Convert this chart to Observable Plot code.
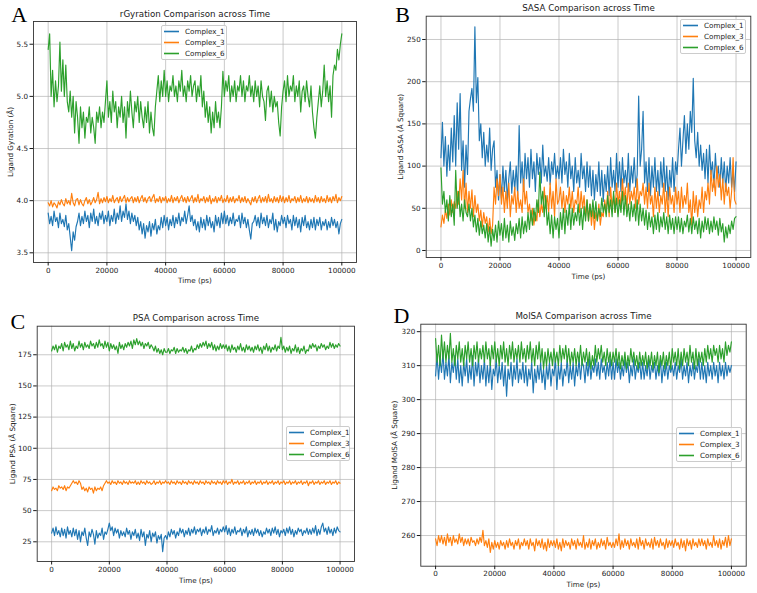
<!DOCTYPE html>
<html><head><meta charset="utf-8">
<script src="https://cdn.jsdelivr.net/npm/d3@7"></script>
<script src="https://cdn.jsdelivr.net/npm/@observablehq/plot@0.6"></script>
<style>
body{margin:0;background:#fff;}
#root{position:relative;width:757px;height:593px;overflow:hidden;font-family:"DejaVu Sans",sans-serif;background:#fff;}
.panel{position:absolute;}
.panel svg{overflow:visible;}
.legend{position:absolute;background:rgba(255,255,255,0.8);border:1px solid #cccccc;border-radius:2px;font-size:7.2px;color:#222;padding:0 0 0 2px;box-sizing:border-box;}
.legend .row{display:flex;align-items:center;height:11px;white-space:nowrap;}
.legend svg{flex:none;margin-right:6px;}
</style></head>
<body>
<div id="root"></div>
<script>
const timePs = [0,500,1000,1500,2000,2500,3000,3500,4000,4500,5000,5500,6000,6500,7000,7500,8000,8500,9000,9500,
10000,10500,11000,11500,12000,12500,13000,13500,14000,14500,15000,15500,16000,16500,17000,17500,18000,18500,19000,19500,
20000,20500,21000,21500,22000,22500,23000,23500,24000,24500,25000,25500,26000,26500,27000,27500,28000,28500,29000,29500,
30000,30500,31000,31500,32000,32500,33000,33500,34000,34500,35000,35500,36000,36500,37000,37500,38000,38500,39000,39500,
40000,40500,41000,41500,42000,42500,43000,43500,44000,44500,45000,45500,46000,46500,47000,47500,48000,48500,49000,49500,
50000,50500,51000,51500,52000,52500,53000,53500,54000,54500,55000,55500,56000,56500,57000,57500,58000,58500,59000,59500,
60000,60500,61000,61500,62000,62500,63000,63500,64000,64500,65000,65500,66000,66500,67000,67500,68000,68500,69000,69500,
70000,70500,71000,71500,72000,72500,73000,73500,74000,74500,75000,75500,76000,76500,77000,77500,78000,78500,79000,79500,
80000,80500,81000,81500,82000,82500,83000,83500,84000,84500,85000,85500,86000,86500,87000,87500,88000,88500,89000,89500,
90000,90500,91000,91500,92000,92500,93000,93500,94000,94500,95000,95500,96000,96500,97000,97500,98000,98500,99000,99500,
100000];

const seriesNames = ["Complex_1","Complex_3","Complex_6"];
const seriesColors = ["#1f77b4","#ff7f0e","#2ca02c"];
const xTicks = [0,20000,40000,60000,80000,100000];
const rgTicks = [3.5,4.0,4.5,5.0,5.5];
const sasaTicks = [0,50,100,150,200,250];
const psaTicks = [25,50,75,100,125,150,175];
const molsaTicks = [260,270,280,290,300,310,320];

// A: radius of gyration (Å)
const rg1 = [3.88,3.78,3.85,3.76,3.9,3.8,3.84,3.74,3.88,3.78,3.82,3.75,3.86,3.72,3.78,3.65,3.52,3.7,3.62,3.75,
 3.8,3.88,3.76,3.85,3.78,3.9,3.8,3.86,3.74,3.88,3.8,3.92,3.78,3.85,3.76,3.88,3.82,3.9,3.78,3.86,
 3.8,3.9,3.76,3.86,3.8,3.92,3.78,3.88,3.82,3.95,3.8,3.9,3.84,3.97,3.82,3.9,3.78,3.88,3.8,3.86,
 3.76,3.84,3.72,3.8,3.68,3.78,3.64,3.76,3.7,3.8,3.66,3.78,3.72,3.82,3.68,3.76,3.72,3.84,3.74,3.86,
 3.76,3.84,3.72,3.82,3.76,3.86,3.74,3.84,3.78,3.88,3.76,3.84,3.8,3.9,3.78,3.86,3.95,3.8,3.86,3.76,
 3.82,3.72,3.8,3.7,3.84,3.74,3.82,3.72,3.86,3.76,3.84,3.74,3.8,3.7,3.86,3.76,3.84,3.74,3.88,3.78,
 3.9,3.78,3.86,3.76,3.84,3.78,3.88,3.76,3.82,3.8,3.86,3.74,3.88,3.78,3.84,3.74,3.82,3.72,3.63,3.78,
 3.8,3.86,3.76,3.84,3.74,3.88,3.78,3.84,3.76,3.86,3.74,3.82,3.78,3.88,3.72,3.82,3.7,3.8,3.76,3.86,
 3.78,3.84,3.74,3.86,3.78,3.82,3.72,3.86,3.76,3.84,3.74,3.82,3.7,3.84,3.76,3.86,3.74,3.8,3.72,3.82,
 3.74,3.84,3.72,3.82,3.76,3.84,3.72,3.8,3.76,3.82,3.72,3.8,3.74,3.84,3.76,3.82,3.74,3.8,3.68,3.78,
 3.82];
const rg3 = [3.98,3.95,4.0,3.94,3.98,3.96,3.93,3.99,3.96,4.01,3.97,3.95,4.02,3.97,4.0,3.96,4.07,3.98,3.95,4.01,
 4.02,3.96,4.01,3.97,3.95,4.0,4.03,3.97,4.01,3.96,3.99,4.03,3.98,4.01,4.08,3.97,4.02,3.98,4.03,3.99,
 4.04,3.98,4.02,3.99,4.05,3.98,4.01,4.03,3.98,4.04,3.99,4.02,4.05,3.98,4.03,3.99,4.02,4.04,3.98,4.03,
 3.99,4.04,3.98,4.02,4.05,3.99,4.03,3.98,4.02,4.04,3.99,4.03,4.06,3.98,4.02,3.99,4.04,3.98,4.03,4.0,
 4.04,3.98,4.02,3.99,4.05,3.98,4.03,4.0,4.04,3.98,4.02,4.05,3.99,4.03,3.98,4.04,3.99,4.02,4.05,3.98,
 4.03,3.99,4.06,3.98,4.02,4.0,4.04,3.98,4.03,3.99,4.05,3.97,4.02,3.99,4.04,3.98,4.03,4.0,4.05,3.98,
 4.02,3.99,4.05,3.98,4.03,3.99,4.04,3.98,4.02,4.0,4.05,3.98,4.03,3.99,4.04,3.98,4.02,3.99,3.96,4.03,
 3.99,4.04,3.98,4.02,4.05,3.98,4.03,3.99,4.04,3.98,4.06,3.99,4.02,3.98,4.04,3.99,4.03,3.98,4.05,3.99,
 4.04,3.98,4.03,3.99,4.05,3.98,4.02,4.0,4.04,3.98,4.03,3.99,4.05,3.98,4.02,3.99,4.04,3.98,4.03,3.99,
 4.02,3.98,4.05,3.99,4.03,3.98,4.04,3.99,4.02,3.98,4.05,3.99,4.03,3.98,4.04,4.0,4.06,3.98,4.03,4.0,
 4.04];
const rg6 = [5.45,5.6,5.0,5.25,4.9,5.15,4.95,5.1,5.52,5.05,5.35,5.0,5.3,4.95,4.85,5.05,4.8,5.0,4.65,4.95,
 4.8,4.55,4.9,4.7,4.85,4.6,4.8,4.75,4.9,4.65,4.8,4.7,4.55,4.85,4.75,4.9,4.7,4.85,4.75,4.95,
 5.15,4.8,4.95,4.75,5.05,4.85,4.95,4.7,4.9,4.8,5.0,4.75,4.9,4.6,4.95,4.8,5.05,4.85,4.7,4.95,
 4.85,5.0,4.75,4.95,4.8,4.7,4.9,4.75,4.95,4.65,4.85,4.7,4.62,4.9,5.05,5.2,4.95,5.15,5.0,5.25,
 5.0,5.15,4.95,5.1,5.05,5.2,5.0,5.1,4.95,5.15,5.05,5.25,5.0,5.1,4.95,5.15,5.05,5.2,5.0,5.1,
 5.15,4.95,5.1,5.0,5.2,4.9,5.05,4.8,4.95,4.75,4.9,4.65,4.85,4.7,4.95,4.75,4.85,4.7,4.9,5.24,
 5.0,5.15,5.05,5.2,4.95,5.1,5.0,5.15,4.95,5.1,5.05,5.2,5.0,5.15,4.95,5.1,5.05,5.2,5.0,5.1,
 4.95,5.15,5.0,5.1,4.9,5.15,5.0,4.95,4.77,5.05,5.1,4.9,5.05,4.85,5.0,4.9,4.95,4.75,4.62,4.9,
 5.05,5.15,4.95,5.2,5.0,5.1,5.05,5.2,4.95,5.1,5.0,5.15,4.85,5.05,5.1,4.95,5.15,5.0,4.9,5.1,
 4.85,4.7,4.6,4.8,4.95,5.1,4.9,5.05,5.3,5.0,5.15,4.95,5.1,4.8,5.2,5.3,5.25,5.45,5.35,5.5,
 5.6];

// B: SASA (Å Square)
const sasa1 = [110,152,100,135,88,125,95,145,105,160,100,175,120,186,95,130,75,125,90,165,
 180,192,165,265,175,205,130,150,110,140,100,125,105,145,95,120,130,75,95,60,
 90,62,100,70,95,60,85,105,68,95,72,100,65,148,80,105,70,115,85,110,
 75,120,85,105,70,115,90,110,80,125,88,100,82,110,78,105,90,115,85,100,
 85,110,80,120,90,105,75,115,85,100,70,110,80,95,75,115,85,100,70,105,
 75,100,65,95,60,90,70,105,65,95,58,90,70,100,65,110,75,95,70,115,
 75,105,70,110,80,95,75,115,70,100,80,110,75,90,183,100,120,165,80,105,
 70,110,65,100,75,110,70,95,65,105,75,110,70,100,60,95,75,110,70,105,
 90,120,145,100,130,160,115,150,120,165,140,204,130,110,140,100,125,95,115,85,
 120,80,125,90,105,75,115,85,100,75,110,80,105,70,100,80,110,75,95,70,
 105];
const sasa3 = [28,42,32,48,38,55,42,60,45,58,50,70,55,85,60,95,50,80,45,70,
 50,72,40,65,45,55,35,48,28,45,32,40,22,38,20,30,75,55,85,65,
 90,55,75,45,70,50,80,40,65,55,75,45,70,50,60,45,85,55,70,45,
 55,35,50,30,45,35,60,40,55,45,75,50,65,45,80,50,70,40,85,55,
 60,75,50,70,45,65,55,75,50,70,45,60,55,75,45,70,50,65,40,60,
 35,55,30,50,25,45,35,55,30,45,40,60,45,70,40,75,50,65,45,80,
 55,70,50,85,60,75,50,80,55,70,60,75,50,85,55,70,65,80,55,75,
 50,80,55,65,40,75,50,70,45,65,55,80,45,70,40,75,55,65,45,75,
 55,70,45,75,50,65,55,80,45,60,30,70,45,65,40,60,50,75,45,70,
 60,80,55,95,70,85,65,100,75,90,60,85,55,80,65,75,50,70,110,60,
 55];
const sasa6 = [98,55,70,45,60,35,65,40,55,30,95,50,70,40,55,35,60,45,40,55,
 35,50,28,42,22,38,18,35,20,30,15,32,10,28,5,25,12,30,10,35,
 18,32,12,38,15,30,10,35,18,28,12,32,20,38,15,40,20,35,22,45,
 25,48,30,50,35,60,45,93,55,70,40,65,30,45,20,42,15,40,25,38,
 15,45,25,50,20,48,30,55,25,50,30,45,35,55,30,50,25,52,35,60,
 35,55,40,60,38,58,35,50,40,62,45,55,40,65,45,60,40,70,45,62,
 40,60,45,70,42,65,40,55,35,58,40,55,35,60,30,55,35,50,30,48,
 25,45,28,40,20,42,25,45,22,40,28,45,25,40,20,42,25,38,20,40,
 25,40,22,38,20,35,28,42,22,38,20,40,25,35,20,38,15,35,22,40,
 25,38,20,35,22,40,25,35,18,38,22,32,10,28,15,30,20,35,25,38,
 40];

// C: PSA (Å Square)
const psa1 = [32,36,30,37,31,34,29,36,30,35,28,37,31,34,29,36,30,35,27,34,
 25,33,30,36,28,22,33,29,35,31,23,34,28,32,30,36,27,33,31,35,
 40,34,37,30,36,32,35,28,34,30,33,29,36,31,34,27,33,30,35,28,
 32,26,35,29,33,22,31,28,34,25,32,29,33,24,30,27,31,17,28,30,
 27,33,29,35,31,34,28,33,30,36,32,35,29,34,31,36,30,35,32,37,
 31,35,33,36,30,35,32,37,31,35,33,38,30,34,32,36,31,35,33,37,
 33,38,31,36,30,35,32,37,31,34,33,36,30,35,32,37,29,34,31,35,
 30,36,32,35,30,34,29,33,31,36,32,35,30,36,32,37,31,35,29,34,
 32,35,30,36,32,37,31,35,29,34,31,36,33,35,30,34,32,36,31,35,
 31,36,32,38,30,35,31,37,40,33,36,31,37,32,35,30,36,32,37,34,
 33];
const psa3 = [66,69,67,68,66,70,68,69,67,70,66,69,68,70,72,74,72,73,71,74,
 72,67,69,66,68,65,69,67,68,64,69,66,68,67,69,66,70,72,74,72,
 73,71,74,72,73,71,74,72,73,71,74,72,73,71,74,72,73,72,74,71,
 73,71,74,72,73,71,74,72,73,71,72,74,71,73,72,74,71,73,72,74,
 72,73,71,74,72,73,71,74,72,73,71,74,72,73,71,74,72,73,71,74,
 72,73,71,74,72,73,71,74,72,73,71,74,72,73,71,74,72,73,71,74,
 72,74,71,73,72,75,71,73,72,74,71,73,72,74,71,73,72,74,71,73,
 72,74,71,73,72,74,71,73,72,74,71,73,72,74,71,73,72,74,71,73,
 72,74,71,73,72,74,71,73,72,74,71,73,72,74,71,73,72,74,70,73,
 72,74,71,73,72,74,71,73,72,74,71,73,72,74,71,73,72,74,71,73,
 72];
const psa6 = [178,182,179,183,177,182,180,184,178,185,181,183,179,186,180,184,178,182,180,186,
 181,184,179,185,181,183,180,186,182,184,180,185,181,187,182,184,180,186,181,185,
 178,184,180,183,179,182,176,185,180,183,179,184,181,185,182,186,180,187,183,188,
 183,186,182,185,180,184,182,185,180,183,181,178,182,177,180,176,179,175,180,177,
 177,180,176,179,178,181,176,180,177,179,178,181,177,180,176,179,178,182,177,180,
 179,183,180,184,181,185,182,186,180,184,181,185,179,183,178,182,179,184,180,183,
 180,183,178,182,177,183,179,181,177,182,179,184,178,181,177,183,179,182,178,181,
 177,182,179,183,178,181,176,182,179,184,178,182,177,181,179,183,178,182,180,189,
 179,182,177,181,178,182,176,180,178,183,177,181,176,180,178,182,176,179,178,183,
 180,184,181,183,178,182,180,184,181,183,179,182,180,185,181,184,180,183,181,184,
 182];

// D: MolSA (Å Square)
const mol1 = [307,313,306,312,308,314,306,311,307,313,305,311,308,313,306,312,305,310,304,311,
 307,312,305,310,306,313,304,311,307,312,305,310,306,312,304,310,305,311,303,309,
 307,312,305,310,306,311,304,310,301,309,306,311,304,310,306,312,305,309,306,311,
 305,310,304,309,306,311,302,309,305,310,306,311,305,309,303,310,306,311,304,309,
 307,312,303,310,306,311,304,309,307,312,305,310,306,311,304,310,307,312,306,311,
 310,305,311,307,312,306,310,308,312,307,311,306,312,308,310,306,311,307,312,306,
 311,306,312,308,311,306,310,307,312,308,311,305,310,307,312,306,310,308,311,306,
 311,306,310,307,312,306,310,308,311,306,310,307,312,305,310,307,311,306,310,308,
 310,307,311,306,310,308,312,306,310,307,311,305,310,307,311,306,310,308,312,306,
 311,306,310,305,311,307,310,306,311,307,310,305,311,307,310,306,311,307,310,308,
 310];
const mol3 = [259,257,260,258,260,257.5,259.5,257,260.5,258,259.5,257,260,258,259,257.5,260.5,258,259.5,257,
 259,257.5,259,257,259.5,258,258.5,257,259,257.5,259.5,258,261.5,257,258.5,256.5,259,255,258,256,
 258.5,256.5,258,256,258.5,257,258,256,258.5,256.5,259,257,258,256,258.5,257,259,256,258,257,
 259,257,258.5,256,259,257,258,255.5,259,257,258.5,256.5,259,256,258,255.5,259,256.5,258.5,257,
 258.5,256.5,259,256,258,255.5,259,256.5,258.5,257,258,256,259,257,258.5,256,259,257,258,256.5,
 260,256,258,256.5,259,256,258.5,257,259,256,258,256.5,259,257,258.5,256,259.5,257,258,256.5,
 258,256.5,259,257,260.5,256,258.5,256.5,259,257,258.5,256,259,257,258,256.5,259,256,259.5,257,
 258.5,256,259,257,258,256.5,259,256,259.5,257,258.5,256.5,259,257,258,256,259,256.5,258.5,257,
 258.5,256.5,259,257,258,256,259,256.5,258.5,255.5,259,257,258.5,256,259,257,258,256.5,259,257,
 259,257,258.5,256,259,257,258,256.5,260,257,258.5,256.5,259,256,258.5,257,259.5,256.5,260,257,
 259];
const mol6 = [318,311,316,310,319,312,317,311,316,312,319.5,311,315,310,316,312,317,311,315,310,
 316,312,317,311,315,310,316,312,317,311,315,312,316,311,317,312,315,310,316,312,
 317,311,315,310,316,312,317,311,315,310,316,312,317,311,315,312,316,311,317,312,
 315,311,316,312,317,311,315,310,316,312,317,311,315,309,314,310,315,311,314,310,
 315,311,314,310,316,311,315,312,316,311,315,310,314,311,315,310,314,311,316,310,
 314,311,315,310,314,309,313,310,316,311,315,312,316,311,314,310,315,311,314,310,
 314,311,315,310,314,309,313,310,314,309,313,310,315,311,314,310,313,309,314,310,
 313,310,314,309,313,310,314,309,313,310,314,308,313,310,314,309,313,310,314,309,
 315,311,314,310,315,309,314,310,315,311,314,310,316,311,314,309,315,310,314,311,
 314,310,315,311,316,312,315,311,316,313,315,311,316,312,315,311,317,313,316,314,
 317];

function rows(seriesArrays) {
  return seriesArrays.flatMap((vals, k) =>
    vals.map((v, i) => ({time: timePs[i], value: v, series: seriesNames[k]})));
}

const root = document.getElementById("root");
const svgNS = "http://www.w3.org/2000/svg";

function makePanel(cfg) {
  const chart = Plot.plot({
    width: cfg.w, height: cfg.h,
    marginLeft: cfg.m[0], marginTop: cfg.m[1], marginRight: cfg.m[2], marginBottom: cfg.m[3],
    style: {fontFamily: "'DejaVu Sans', sans-serif", fontSize: "7.2px", color: "#1a1a1a", background: "transparent", overflow: "visible"},
    x: {domain: [-5000, 105000]},
    y: {domain: cfg.yDomain},
    color: {domain: seriesNames, range: seriesColors},
    marks: [
      Plot.gridX(xTicks, {stroke: "#b0b0b0", strokeOpacity: 0.75, strokeWidth: 0.9}),
      Plot.gridY(cfg.yTicks, {stroke: "#b0b0b0", strokeOpacity: 0.75, strokeWidth: 0.9}),
      Plot.line(rows(cfg.series), {x: "time", y: "value", stroke: "series", strokeWidth: 1.15}),
      Plot.frame({stroke: "#333", strokeWidth: 0.9}),
      Plot.axisX(xTicks, {tickSize: 3.5, tickPadding: 1.5, tickFormat: d3.format("d"), label: null}),
      Plot.axisY(cfg.yTicks, {tickSize: 3.5, tickPadding: 2, tickFormat: cfg.yFormat, label: null}),
      Plot.text([cfg.title], {text: d => d, frameAnchor: "top", textAnchor: "middle", lineAnchor: "middle", dy: cfg.titleDy, fontSize: 8.7}),
      Plot.text(["Time (ps)"], {text: d => d, frameAnchor: "bottom", textAnchor: "middle", lineAnchor: "middle", dy: cfg.xlabDy}),
      Plot.text([cfg.yLabel], {text: d => d, frameAnchor: "left", textAnchor: "middle", lineAnchor: "middle", rotate: -90, dx: cfg.ylabDx}),
      Plot.text([cfg.letter], {text: d => d, frameAnchor: "top-left", textAnchor: "start", lineAnchor: "bottom", dx: cfg.letterD[0], dy: cfg.letterD[1], fontSize: 22, fontFamily: "'Liberation Serif', 'Times New Roman', serif", fill: "#000"})
    ]
  });
  const wrap = document.createElement("div");
  wrap.className = "panel";
  wrap.style.left = cfg.pos[0] + "px";
  wrap.style.top = cfg.pos[1] + "px";
  wrap.appendChild(chart);
  root.appendChild(wrap);

  const lg = document.createElement("div");
  lg.className = "legend";
  lg.style.left = cfg.legend[0] + "px";
  lg.style.top = cfg.legend[1] + "px";
  lg.style.width = cfg.legend[2] + "px";
  lg.style.height = cfg.legend[3] + "px";
  seriesNames.forEach((name, k) => {
    const r = document.createElement("div");
    r.className = "row";
    const sw = document.createElementNS(svgNS, "svg");
    sw.setAttribute("width", "15");
    sw.setAttribute("height", "11");
    const ln = document.createElementNS(svgNS, "line");
    ln.setAttribute("x1", "0"); ln.setAttribute("x2", "15");
    ln.setAttribute("y1", "5.5"); ln.setAttribute("y2", "5.5");
    ln.setAttribute("stroke", seriesColors[k]);
    ln.setAttribute("stroke-width", "1.6");
    sw.appendChild(ln);
    const t = document.createElement("span");
    t.textContent = name;
    r.appendChild(sw); r.appendChild(t);
    lg.appendChild(r);
  });
  root.appendChild(lg);
}

makePanel({
  pos: [0, 0], w: 378, h: 290, m: [33, 21, 22, 28],
  yDomain: [3.407, 5.718], yTicks: rgTicks, yFormat: d3.format(".1f"),
  series: [rg1, rg3, rg6],
  title: "rGyration Comparison across Time", titleDy: -7, xlabDy: 18,
  yLabel: "Ligand Gyration (Å)", ylabDx: -23,
  letter: "A", letterD: [-22.3, 0],
  legend: [161, 25, 66, 35]
});
makePanel({
  pos: [378, 0], w: 379, h: 290, m: [47.7, 15.7, 6.7, 33],
  yDomain: [-8.3, 277.6], yTicks: sasaTicks, yFormat: d3.format("d"),
  series: [sasa1, sasa3, sasa6],
  title: "SASA Comparison across Time", titleDy: -8, xlabDy: 19,
  yLabel: "Ligand SASA (Å Square)", ylabDx: -26,
  letter: "B", letterD: [-31, 6],
  legend: [680, 19, 66, 35]
});
makePanel({
  pos: [0, 293], w: 378, h: 300, m: [36.7, 32.7, 24, 32],
  yDomain: [9.2, 197.9], yTicks: psaTicks, yFormat: d3.format("d"),
  series: [psa1, psa3, psa6],
  title: "PSA Comparison across Time", titleDy: -8, xlabDy: 19,
  yLabel: "Ligand PSA (Å Square)", ylabDx: -25,
  letter: "C", letterD: [-26.7, 2.6],
  legend: [286, 426, 64, 35]
});
makePanel({
  pos: [378, 293], w: 379, h: 300, m: [42.3, 30.7, 11.3, 27.3],
  yDomain: [250.97, 322.2], yTicks: molsaTicks, yFormat: d3.format("d"),
  series: [mol1, mol3, mol6],
  title: "MolSA Comparison across Time", titleDy: -8, xlabDy: 18.6,
  yLabel: "Ligand MolSA (Å Square)", ylabDx: -26.3,
  letter: "D", letterD: [-27.3, -1],
  legend: [676, 427, 66, 35]
});
</script>
</body></html>
